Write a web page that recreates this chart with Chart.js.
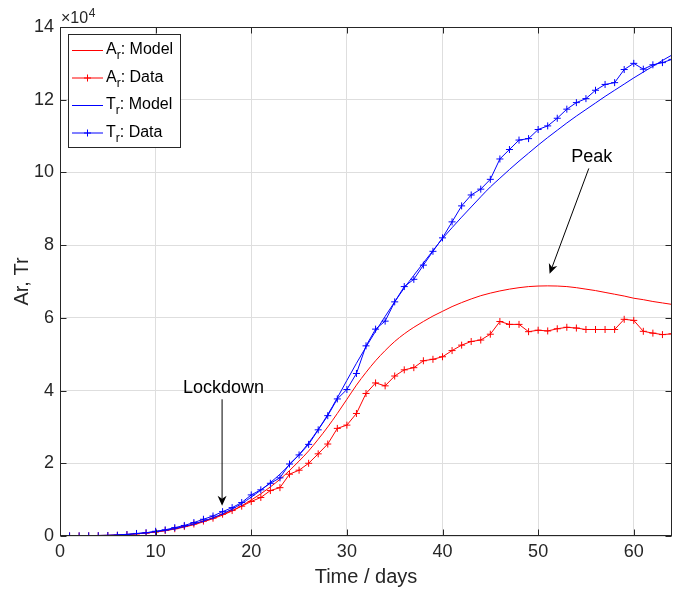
<!DOCTYPE html>
<html><head><meta charset="utf-8">
<script src="https://cdn.jsdelivr.net/npm/chart.js@4.4.1/dist/chart.umd.min.js"></script>
<style>html,body{margin:0;padding:0;background:#fff;overflow:hidden}canvas{display:block}</style>
</head><body>
<canvas id="c" width="686" height="593"></canvas>
<script>
// Values are in units of 10^4 (as shown by the axis multiplier)
const days = [0,1,2,3,4,5,6,7,8,9,10,11,12,13,14,15,16,17,18,19,20,21,22,23,24,25,26,27,28,29,30,31,32,33,34,35,36,37,38,39,40,41,42,43,44,45,46,47,48,49,50,51,52,53,54,55,56,57,58,59,60,61,62,63,64];

const arModel = [0.002,0.004,0.006,0.009,0.014,0.02,0.03,0.043,0.06,0.083,0.11,0.145,0.19,0.245,0.31,0.39,0.475,0.575,0.69,0.83,0.99,1.16,1.35,1.56,1.8,2.06,2.34,2.66,3.0,3.37,3.76,4.15,4.5,4.82,5.1,5.35,5.56,5.74,5.9,6.05,6.18,6.31,6.42,6.52,6.61,6.68,6.74,6.79,6.83,6.86,6.875,6.88,6.875,6.86,6.83,6.79,6.75,6.7,6.65,6.6,6.54,6.5,6.45,6.41,6.37];

const arData = [0.002,0.003,0.004,0.006,0.008,0.012,0.02,0.035,0.06,0.08,0.11,0.15,0.2,0.26,0.33,0.41,0.49,0.6,0.7,0.82,0.95,1.06,1.25,1.33,1.7,1.81,2.0,2.26,2.53,2.96,3.05,3.37,3.92,4.21,4.13,4.4,4.57,4.63,4.82,4.86,4.93,5.1,5.25,5.35,5.39,5.55,5.9,5.82,5.82,5.62,5.66,5.64,5.7,5.74,5.72,5.68,5.68,5.68,5.68,5.96,5.93,5.63,5.58,5.54,5.56];

const trModel = [0.002,0.004,0.006,0.01,0.015,0.022,0.032,0.046,0.064,0.088,0.118,0.155,0.2,0.26,0.33,0.41,0.5,0.61,0.74,0.89,1.07,1.26,1.47,1.7,1.96,2.24,2.56,2.93,3.34,3.8,4.28,4.75,5.2,5.63,6.04,6.44,6.82,7.17,7.51,7.85,8.18,8.48,8.77,9.05,9.33,9.6,9.84,10.08,10.31,10.53,10.75,10.96,11.16,11.36,11.55,11.73,11.91,12.09,12.26,12.43,12.6,12.76,12.92,13.08,13.23];

const trData = [0.002,0.003,0.004,0.006,0.009,0.014,0.02,0.04,0.07,0.09,0.13,0.17,0.23,0.29,0.37,0.46,0.55,0.67,0.78,0.92,1.13,1.27,1.45,1.6,1.98,2.23,2.52,2.92,3.31,3.77,4.03,4.47,5.23,5.69,5.91,6.44,6.86,7.06,7.45,7.83,8.2,8.64,9.08,9.38,9.54,9.81,10.37,10.63,10.89,10.93,11.18,11.28,11.49,11.74,11.92,12.03,12.26,12.42,12.47,12.83,13.0,12.84,12.96,13.02,13.11];

const seriesNames = ['Model','Data','Model','Data'];
const seriesLetters = ['A','A','T','T'];
const xTitle = 'Time / days';
const yTitle = 'Ar, Tr';
const multiplierBase = '\u00d710';
const multiplierExp = '4';
// annotations: [text, textX, textY, arrowFromX, arrowFromY, arrowToX, arrowToY]
const lockdownNote = ['Lockdown', 17.1, 4.06, 16.95, 3.76, 16.95, 0.83];
const peakNote = ['Peak', 55.6, 10.42, 55.3, 10.11, 51.2, 7.21];

const FONT = "'Liberation Sans', Arial, Helvetica, sans-serif";
const AX = '#262626';
const RED = '#ff0000', BLUE = '#0000ff';

const pts = arr => days.map((d,i)=>({x:d, y:arr[i]}));

function drawArrow(ctx, x1, y1, x2, y2) {
  const ang = Math.atan2(y2-y1, x2-x1);
  const L = 10, W = 4.5, back = 7;
  ctx.save();
  ctx.strokeStyle = '#000'; ctx.fillStyle = '#000'; ctx.lineWidth = 1;
  ctx.beginPath();
  const bx = x2 - Math.cos(ang)*back, by = y2 - Math.sin(ang)*back;
  ctx.moveTo(x1, y1); ctx.lineTo(bx, by); ctx.stroke();
  ctx.translate(x2, y2); ctx.rotate(ang);
  ctx.beginPath();
  ctx.moveTo(0,0); ctx.lineTo(-L, -W); ctx.lineTo(-back, 0); ctx.lineTo(-L, W); ctx.closePath();
  ctx.fill();
  ctx.restore();
}

const decor = {
  id: 'decor',
  afterDraw(chart) {
    const {ctx, chartArea: a, scales: {x, y}} = chart;
    ctx.save();
    const L = Math.round(a.left)+0.5, R = Math.round(a.right)-0.5, T = Math.round(a.top)+0.5, B = Math.round(a.bottom)-0.5;
    ctx.strokeStyle = AX; ctx.lineWidth = 1;
    ctx.strokeRect(L, T, R-L, B-T);
    ctx.beginPath();
    x.ticks.forEach(t => {
      const px = Math.round(x.getPixelForValue(t.value))+0.5;
      ctx.moveTo(px, B); ctx.lineTo(px, B-6);
      ctx.moveTo(px, T); ctx.lineTo(px, T+6);
    });
    y.ticks.forEach(t => {
      const py = Math.round(y.getPixelForValue(t.value))+0.5;
      ctx.moveTo(L, py); ctx.lineTo(L+6, py);
      ctx.moveTo(R, py); ctx.lineTo(R-6, py);
    });
    ctx.stroke();

    ctx.fillStyle = AX;
    ctx.textBaseline = 'alphabetic'; ctx.textAlign = 'left';
    ctx.font = '16px ' + FONT;
    ctx.fillText(multiplierBase, 61, 23.3);
    const w = ctx.measureText(multiplierBase).width;
    ctx.font = '12px ' + FONT;
    ctx.fillText(multiplierExp, 61 + w + 0.5, 16.7);

    [lockdownNote, peakNote].forEach(n => {
      ctx.font = '18px ' + FONT;
      ctx.fillStyle = '#000';
      ctx.textAlign = 'center'; ctx.textBaseline = 'middle';
      ctx.fillText(n[0], x.getPixelForValue(n[1]), y.getPixelForValue(n[2]));
      drawArrow(ctx, x.getPixelForValue(n[3]), y.getPixelForValue(n[4]), x.getPixelForValue(n[5]), y.getPixelForValue(n[6]));
    });

    const lx = 68.5, ly = 34.5, lw = 112, lh = 113;
    ctx.fillStyle = '#fff';
    ctx.fillRect(lx, ly, lw, lh);
    ctx.strokeStyle = AX; ctx.lineWidth = 1;
    ctx.strokeRect(lx, ly, lw, lh);
    const rows = [50, 77.5, 105, 132.5];
    chart.data.datasets.forEach((ds, i) => {
      const ry = rows[i];
      ctx.strokeStyle = ds.borderColor; ctx.lineWidth = 1;
      ctx.beginPath(); ctx.moveTo(72, ry+0.5); ctx.lineTo(103, ry+0.5); ctx.stroke();
      if (ds.pointRadius > 0) {
        const cx = 87.5, r = 3.5;
        ctx.beginPath();
        ctx.moveTo(cx - r, ry+0.5); ctx.lineTo(cx + r, ry+0.5);
        ctx.moveTo(cx, ry+0.5 - r); ctx.lineTo(cx, ry+0.5 + r);
        ctx.stroke();
      }
      ctx.fillStyle = '#000';
      ctx.textAlign = 'left'; ctx.textBaseline = 'alphabetic';
      ctx.font = '16px ' + FONT;
      let tx = 106;
      const base = ry + 4;
      ctx.fillText(seriesLetters[i], tx, base);
      tx += ctx.measureText(seriesLetters[i]).width;
      ctx.font = '12px ' + FONT;
      ctx.fillText('r', tx, base + 5);
      tx += ctx.measureText('r').width;
      ctx.font = '16px ' + FONT;
      ctx.fillText(': ' + seriesNames[i], tx, base);
    });
    ctx.restore();
  }
};

new Chart(document.getElementById('c'), {
  type: 'line',
  data: {
    datasets: [
      {label: 'Ar: Model', data: pts(arModel), borderColor: RED, borderWidth: 1, pointRadius: 0, cubicInterpolationMode: 'monotone', order: 4},
      {label: 'Ar: Data', data: pts(arData), borderColor: RED, borderWidth: 1, pointRadius: 3.5, pointStyle: 'cross', pointBorderColor: RED, pointBorderWidth: 1, tension: 0, order: 3},
      {label: 'Tr: Model', data: pts(trModel), borderColor: BLUE, borderWidth: 1, pointRadius: 0, cubicInterpolationMode: 'monotone', order: 2},
      {label: 'Tr: Data', data: pts(trData), borderColor: BLUE, borderWidth: 1, pointRadius: 3.5, pointStyle: 'cross', pointBorderColor: BLUE, pointBorderWidth: 1, tension: 0, order: 1}
    ]
  },
  options: {
    responsive: false,
    animation: false,
    events: [],
    layout: {padding: {left: 0, right: 14, top: 27, bottom: 0}},
    plugins: {legend: {display: false}, tooltip: {enabled: false}},
    scales: {
      x: {
        type: 'linear', min: 0, max: 64,
        afterFit: s => { s.height = 57; },
        ticks: {stepSize: 10, includeBounds: false, color: AX, font: {family: FONT, size: 18}, padding: 5, maxRotation: 0},
        grid: {color: '#dedede', drawTicks: false, tickLength: 0},
        border: {display: false},
        title: {display: true, text: xTitle, color: AX, font: {family: FONT, size: 20}, padding: {top: 0, bottom: 4}}
      },
      y: {
        type: 'linear', min: 0, max: 14,
        afterFit: s => { s.width = 60; },
        ticks: {stepSize: 2, includeBounds: false, color: AX, font: {family: FONT, size: 18}, padding: 6},
        grid: {color: '#dedede', drawTicks: false, tickLength: 0},
        border: {display: false},
        title: {display: true, text: yTitle, color: AX, font: {family: FONT, size: 20}, padding: {top: 10, bottom: 0}}
      }
    }
  },
  plugins: [decor]
});
</script>
</body></html>
